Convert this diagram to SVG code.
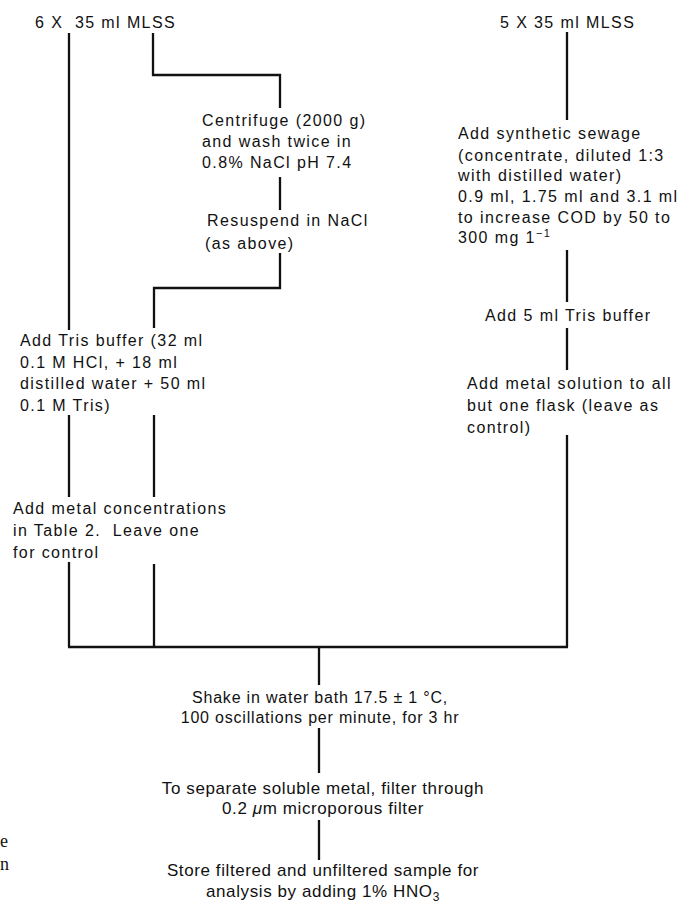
<svg xmlns="http://www.w3.org/2000/svg" width="679" height="903" viewBox="0 0 679 903">
<style>
.t{font-family:"Liberation Sans",Arial,sans-serif;font-size:16px;letter-spacing:1.4px;fill:#111}
.k{letter-spacing:0.8px;text-anchor:middle}
.b{font-family:"Liberation Sans",Arial,sans-serif;font-size:17px;letter-spacing:0.6px;fill:#111;text-anchor:middle}
.s{font-family:"Liberation Serif","Times New Roman",serif;font-size:18px;fill:#111}
.c path{fill:none;stroke:#111;stroke-width:2.3}
</style>
<rect width="679" height="903" fill="#fff"/>
<g class="c" id="connectors">
<path d="M69,33 V330"/>
<path d="M69,415 V497"/>
<path d="M69,562 V647"/>
<path d="M153,33 V75 H280 V108"/>
<path d="M280,177 V210"/>
<path d="M280,253 V288 H154 V328"/>
<path d="M154,415 V497"/>
<path d="M154,564 V647"/>
<path d="M68,647 H568"/>
<path d="M567,32 V120"/>
<path d="M567,250 V302"/>
<path d="M567,328 V370"/>
<path d="M567,435 V647"/>
<path d="M319,647 V685"/>
<path d="M319,728 V773"/>
<path d="M319,820 V860"/>
</g>
<g id="n-left-start"><text class="t" x="35" y="28" xml:space="preserve">6 X  35 ml MLSS</text></g>
<g id="n-right-start"><text class="t" x="500" y="28">5 X 35 ml MLSS</text></g>
<g id="n-centrifuge"><text class="t" x="202" y="126">Centrifuge (2000 g)</text><text class="t" x="202" y="147">and wash twice in</text><text class="t" x="202" y="168">0.8% NaCl pH 7.4</text></g>
<g id="n-resuspend"><text class="t" x="207" y="226">Resuspend in NaCl</text><text class="t" x="205" y="249">(as above)</text></g>
<g id="n-tris-left"><text class="t" x="20" y="346">Add Tris buffer (32 ml</text><text class="t" x="20" y="367.5">0.1 M HCl, + 18 ml</text><text class="t" x="20" y="389">distilled water + 50 ml</text><text class="t" x="20" y="410.5">0.1 M Tris)</text></g>
<g id="n-metal-left"><text class="t" x="13" y="514">Add metal concentrations</text><text class="t" x="13" y="536" xml:space="preserve">in Table 2.  Leave one</text><text class="t" x="13" y="558">for control</text></g>
<g id="n-sewage"><text class="t" x="458" y="139">Add synthetic sewage</text><text class="t" x="458" y="161">(concentrate, diluted 1:3</text><text class="t" x="458" y="181">with distilled water)</text><text class="t" x="458" y="202">0.9 ml, 1.75 ml and 3.1 ml</text><text class="t" x="458" y="223">to increase COD by 50 to</text><text class="t" x="458" y="243">300 mg 1<tspan font-size="11" dy="-6">−1</tspan></text></g>
<g id="n-tris-right"><text class="t" x="485" y="321">Add 5 ml Tris buffer</text></g>
<g id="n-metal-right"><text class="t" x="467" y="389">Add metal solution to all</text><text class="t" x="467" y="411">but one flask (leave as</text><text class="t" x="467" y="433">control)</text></g>
<g id="n-shake"><text class="t k" x="320" y="703">Shake in water bath 17.5 ± 1 °C,</text><text class="t k" x="320" y="723">100 oscillations per minute, for 3 hr</text></g>
<g id="n-filter"><text class="b" x="323" y="794">To separate soluble metal, filter through</text><text class="b" x="323" y="814">0.2 <tspan font-style="italic">μ</tspan>m microporous filter</text></g>
<g id="n-store"><text class="b" x="323" y="876">Store filtered and unfiltered sample for</text><text class="b" x="323" y="897">analysis by adding 1% HNO<tspan font-size="12" dy="4">3</tspan></text></g>
<g id="margin"><text class="s" x="0" y="847">e</text><text class="s" x="0" y="870">n</text></g>
</svg>
